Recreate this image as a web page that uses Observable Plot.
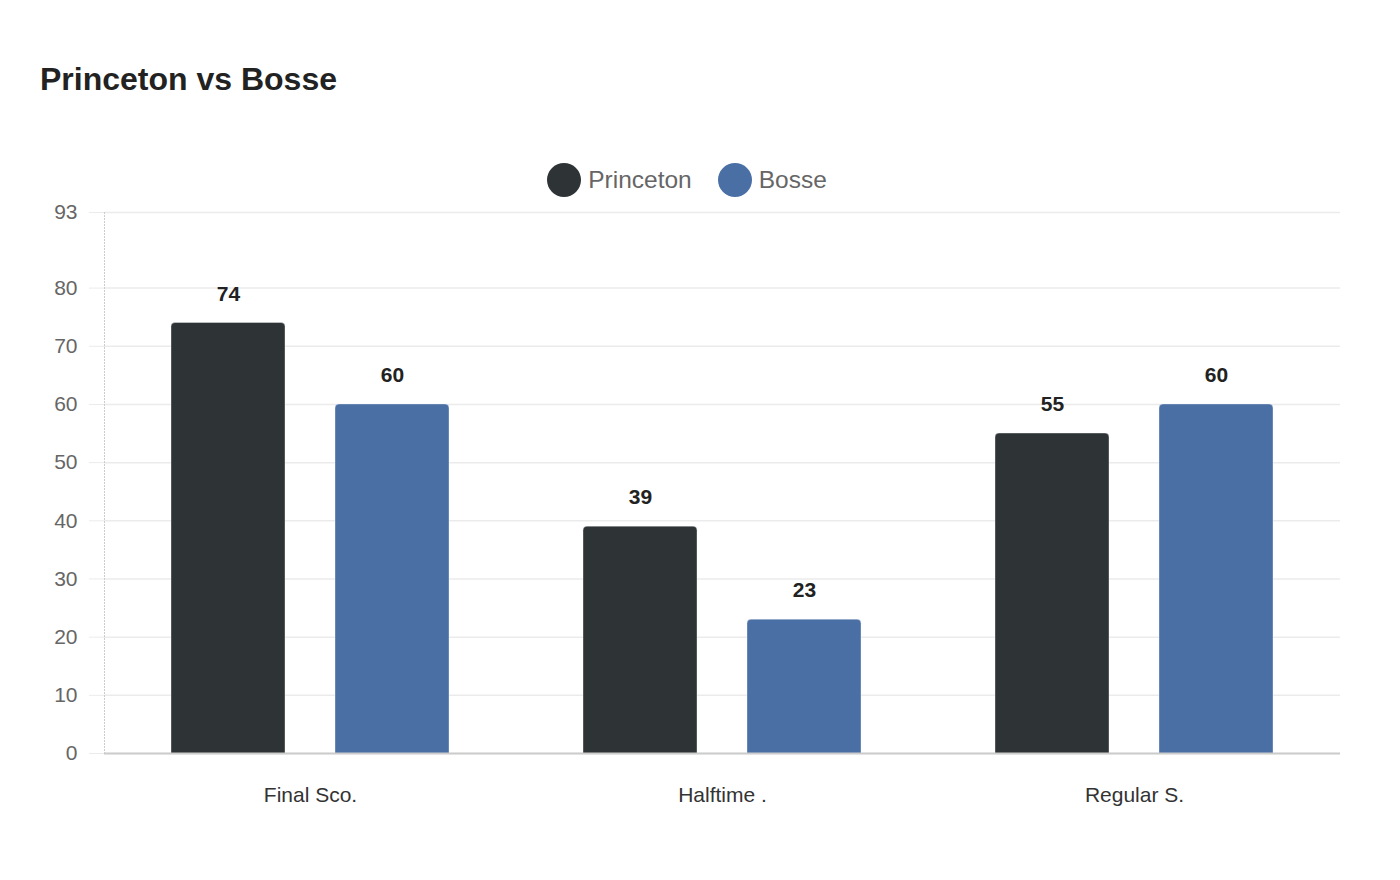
<!DOCTYPE html>
<html>
<head>
<meta charset="utf-8">
<script src="https://cdn.jsdelivr.net/npm/d3@7"></script>
<script src="https://cdn.jsdelivr.net/npm/@observablehq/plot@0.6"></script>
<style>
  html, body { margin: 0; padding: 0; background: #fff; font-family: "Liberation Sans", Arial, sans-serif; }
  #title { height: 155px; box-sizing: border-box; padding: 60px 0 0 40px; font-size: 32px; font-weight: bold; color: #222; line-height: 38px; }
  #legend { height: 50px; display: flex; justify-content: center; align-items: center; gap: 26px; font-size: 24.5px; color: #666; padding-right: 26px; }
  .item { display: flex; align-items: center; gap: 7px; }
  .dot { width: 34px; height: 34px; border-radius: 50%; display: inline-block; }
</style>
</head>
<body>
<div id="title">Princeton vs Bosse</div>
<div id="legend"></div>
<div id="chart"></div>
<script>
const categories = ["Final Sco.", "Halftime .", "Regular S."];
const teams = ["Princeton", "Bosse"];
const princeton = [74, 39, 55];
const bosse = [60, 23, 60];
const colors = ["#2e3436", "#4a6fa5"];
const yTicks = [0, 10, 20, 30, 40, 50, 60, 70, 80, 93];

const data = [];
categories.forEach((c, i) => {
  data.push({category: c, team: teams[0], value: princeton[i]});
  data.push({category: c, team: teams[1], value: bosse[i]});
});

const legend = document.getElementById("legend");
teams.forEach((t, i) => {
  const it = document.createElement("div");
  it.className = "item";
  it.innerHTML = `<span class="dot" style="background:${colors[i]}"></span><span>${t}</span>`;
  legend.appendChild(it);
});

const chart = Plot.plot({
  width: 1400,
  height: 650,
  marginTop: 7,
  marginLeft: 103,
  marginRight: 60,
  marginBottom: 102,
  style: {fontFamily: "Liberation Sans, Arial, sans-serif", overflow: "visible", background: "transparent"},
  fx: {domain: categories, padding: 0, label: null},
  x: {domain: teams, paddingInner: 0.303, paddingOuter: 0.4, axis: null},
  y: {domain: [0, 93], label: null},
  color: {domain: teams, range: colors},
  marks: [
    Plot.gridY(yTicks, {stroke: "#ebebeb", strokeOpacity: 1, strokeWidth: 1.5}),
    Plot.axisY(yTicks, {tickSize: 15, tickPadding: 12, stroke: "#ebebeb", fontSize: 21, fill: "#666", label: null}),
    Plot.frame({anchor: "left", facet: "super", stroke: "#ccc", strokeDasharray: "1,2"}),
    Plot.barY(data, {fx: "category", x: "team", y: "value", fill: "team", rx: 4, insetBottom: -6, clip: true, stroke: "#fff", strokeOpacity: 0.35}),
    Plot.ruleY([0], {stroke: "#ccc", strokeWidth: 2}),
    Plot.text(data, {fx: "category", x: "team", y: "value", text: d => String(d.value), dy: -29, fontSize: 21, fontWeight: "bold", fill: "#222"}),
    Plot.axisFx({anchor: "bottom", tickSize: 0, tickPadding: 34, fontSize: 21, fill: "#333", label: null})
  ]
});
document.getElementById("chart").appendChild(chart);
</script>
</body>
</html>
